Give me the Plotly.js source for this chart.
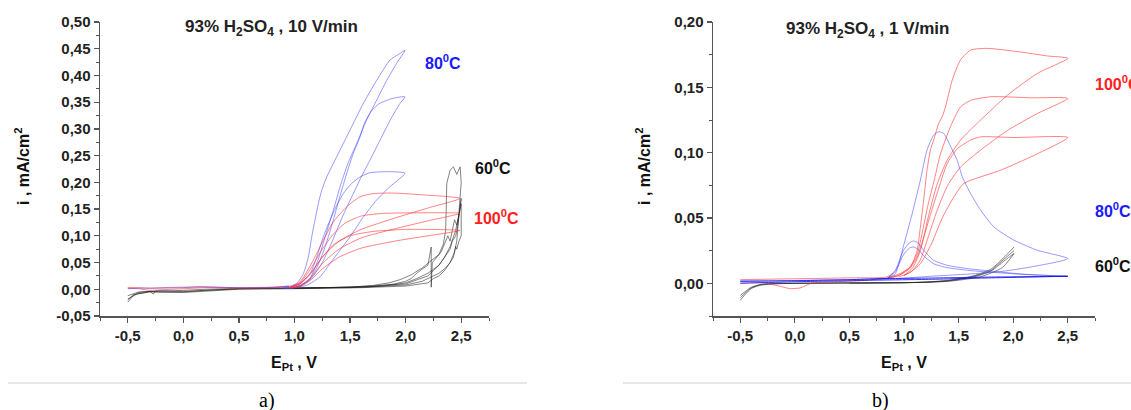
<!DOCTYPE html>
<html>
<head>
<meta charset="utf-8">
<script src="https://cdn.plot.ly/plotly-3.0.1.min.js"></script>
<style>html,body{margin:0;padding:0;background:#fff;}#chart{width:1131px;height:410px;}</style>
</head>
<body>
<div id="chart"></div>
<script>
// ---------- tick labels ----------
const xTickVals = [-0.5, 0, 0.5, 1.0, 1.5, 2.0, 2.5];
const xTickText = ["-0,5", "0,0", "0,5", "1,0", "1,5", "2,0", "2,5"];
const yTickValsA = [-0.05, 0, 0.05, 0.10, 0.15, 0.20, 0.25, 0.30, 0.35, 0.40, 0.45, 0.50];
const yTickTextA = ["-0,05", "0,00", "0,05", "0,10", "0,15", "0,20", "0,25", "0,30", "0,35", "0,40", "0,45", "0,50"];
const yTickValsB = [0, 0.05, 0.10, 0.15, 0.20];
const yTickTextB = ["0,00", "0,05", "0,10", "0,15", "0,20"];

// ================= a) 10 V/min =================
// 80 C (blue) loops
const aB1_E = [0.90,0.96,1.05,1.14,1.21,1.28,1.35,1.41,1.48,1.56,1.65,1.74,1.83,1.92,1.994,1.94,1.86,1.74,1.62,1.50,1.38,1.29,1.245,1.214,1.184,1.155,1.124,1.079,1.02,0.90];
const aB1_I = [0.002,0.003,0.007,0.021,0.054,0.101,0.148,0.192,0.235,0.273,0.317,0.354,0.391,0.423,0.447,0.440,0.429,0.391,0.348,0.298,0.248,0.210,0.185,0.160,0.129,0.098,0.060,0.029,0.011,0.002];
const aB2_E = [0.95,1.05,1.15,1.25,1.34,1.43,1.52,1.60,1.68,1.77,1.86,1.95,1.994,1.88,1.76,1.69,1.63,1.59,1.53,1.47,1.41,1.35,1.28,1.20,1.12,1.02,0.92];
const aB2_I = [0.002,0.006,0.020,0.050,0.090,0.135,0.175,0.210,0.242,0.279,0.316,0.348,0.360,0.357,0.347,0.333,0.311,0.285,0.255,0.217,0.175,0.130,0.082,0.040,0.014,0.004,0.002];
const aB3_E = [1.0,1.11,1.229,1.319,1.409,1.499,1.619,1.739,1.859,1.994,1.859,1.679,1.589,1.514,1.439,1.38,1.319,1.259,1.2,1.139,1.049,0.95];
const aB3_I = [0.003,0.0075,0.023,0.048,0.073,0.098,0.135,0.167,0.192,0.217,0.220,0.218,0.210,0.198,0.179,0.157,0.129,0.098,0.060,0.029,0.011,0.003];
const aBbase_E = [-0.5,-0.4,-0.2,0,0.15,0.3,0.5,0.7,0.85,0.95];
const aBbase_I = [0.001,0.002,0.002,0.003,0.005,0.004,0.003,0.003,0.004,0.006];
// 100 C (red) loops
const aR1_E = [0.95,1.049,1.169,1.259,1.349,1.469,1.589,1.709,1.888,2.129,2.488,2.2,1.9,1.6,1.4,1.25,1.15,1.05,0.95];
const aR1_I = [0.003,0.0137,0.0543,0.0918,0.126,0.154,0.173,0.179,0.180,0.177,0.170,0.152,0.133,0.112,0.090,0.060,0.030,0.010,0.003];
const aR2_E = [0.95,1.05,1.15,1.25,1.35,1.45,1.6,1.8,2.1,2.488,2.2,1.9,1.6,1.4,1.25,1.15,1.05,0.95];
const aR2_I = [0.003,0.012,0.040,0.075,0.103,0.123,0.137,0.142,0.143,0.142,0.128,0.113,0.096,0.075,0.048,0.022,0.007,0.003];
const aR3_E = [0.95,1.05,1.15,1.25,1.35,1.5,1.7,2.0,2.488,2.2,1.9,1.6,1.4,1.25,1.15,1.05,0.95];
const aR3_I = [0.003,0.010,0.032,0.060,0.083,0.100,0.108,0.112,0.110,0.100,0.090,0.077,0.060,0.038,0.018,0.005,0.003];
const aRbase_E = [-0.5,-0.4,-0.3,-0.2,0,0.2,0.5,0.8,0.95];
const aRbase1_I = [0.002,0.001,-0.002,-0.001,0.001,0.003,0.002,0.003,0.005];
const aRbase2_I = [0.003,0.003,0.002,0.003,0.004,0.004,0.003,0.004,0.006];
// 60 C (black)
const aK1_E = [-0.5,-0.45,-0.4,-0.3,-0.2,0,0.2,0.5,0.8,1.0,1.3,1.5,1.7,1.85,1.95,2.05,2.15,2.22,2.30,2.34,2.36,2.365,2.37,2.40,2.43,2.46,2.49,2.50,2.49,2.48,2.46,2.44,2.40,2.35,2.30,2.25,2.2,2.0,1.6,1.0,0.5,0,-0.3,-0.45,-0.5];
const aK1_I = [-0.024,-0.012,-0.006,-0.004,-0.005,-0.005,-0.002,0.001,0.002,0.002,0.003,0.004,0.007,0.012,0.018,0.027,0.040,0.052,0.065,0.085,0.110,0.150,0.198,0.223,0.229,0.215,0.229,0.200,0.170,0.130,0.090,0.070,0.050,0.035,0.025,0.020,0.012,0.006,0.003,0.001,0.000,-0.006,-0.005,-0.010,-0.020];
const aK2_E = [-0.5,-0.42,-0.3,-0.27,-0.25,-0.1,0.2,0.6,1.0,1.4,1.7,1.9,2.0,2.05,2.1,2.15,2.2,2.23,2.23,2.24,2.28,2.32,2.35,2.38,2.40,2.42,2.44,2.46,2.48,2.5,2.5,2.48,2.46,2.45,2.43,2.40,2.36,2.3,2.25,2.15,2.0,1.6,1.0];
const aK2_I = [-0.018,-0.009,-0.004,-0.009,-0.003,-0.003,0.0,0.002,0.002,0.003,0.005,0.010,0.015,0.020,0.030,0.038,0.045,0.079,0.004,0.050,0.060,0.070,0.085,0.100,0.090,0.110,0.130,0.120,0.140,0.160,0.100,0.090,0.075,0.080,0.060,0.050,0.040,0.030,0.025,0.015,0.008,0.004,0.002];
const aK3_E = [-0.5,-0.4,-0.2,0,0.5,1.0,1.5,1.8,2.0,2.1,2.2,2.3,2.35,2.4,2.42,2.45,2.47,2.5,2.48,2.45,2.4,2.35,2.3,2.2,2.0,1.5,1.0];
const aK3_I = [-0.012,-0.005,-0.003,-0.004,0.001,0.002,0.003,0.006,0.012,0.020,0.030,0.045,0.060,0.075,0.090,0.100,0.120,0.170,0.140,0.110,0.080,0.060,0.045,0.025,0.010,0.004,0.002];

// ================= b) 1 V/min =================
// 100 C (red)
const bR1_E = [0.85,0.874,0.963,1.058,1.12,1.15,1.18,1.211,1.242,1.272,1.318,1.35,1.38,1.442,1.518,1.61,1.764,2.07,2.315,2.5,2.223,1.948,1.702,1.518,1.396,1.30,1.22,1.15,1.08,1.0];
const bR1_I = [0.004,0.0048,0.0074,0.0125,0.025,0.043,0.0636,0.0866,0.102,0.1096,0.1224,0.1275,0.135,0.1556,0.171,0.1785,0.1798,0.177,0.174,0.1722,0.1607,0.144,0.125,0.1096,0.0943,0.075,0.050,0.025,0.012,0.006];
const bR2_E = [0.85,0.95,1.05,1.12,1.17,1.22,1.28,1.334,1.426,1.518,1.61,1.794,2.162,2.5,2.223,1.948,1.702,1.518,1.40,1.30,1.22,1.15,1.08,1.0];
const bR2_I = [0.004,0.006,0.012,0.022,0.040,0.060,0.080,0.099,0.120,0.135,0.140,0.1428,0.142,0.1415,0.130,0.117,0.102,0.089,0.075,0.055,0.035,0.018,0.010,0.006];
const bR3_E = [0.85,0.95,1.05,1.12,1.18,1.24,1.30,1.396,1.488,1.61,1.702,2.008,2.5,2.193,1.886,1.548,1.457,1.35,1.25,1.15,1.05,0.95];
const bR3_I = [0.004,0.006,0.011,0.020,0.035,0.052,0.068,0.0917,0.103,0.1096,0.1121,0.1116,0.1116,0.098,0.0866,0.0764,0.0661,0.050,0.030,0.015,0.008,0.005];
const bRbase1_E = [-0.5,-0.3,-0.2,-0.1,-0.05,0.05,0.15,0.3,0.6,0.85];
const bRbase1_I = [0.001,0.0005,-0.001,-0.003,-0.004,-0.0035,0.0,0.001,0.002,0.004];
const bRbase2_E = [-0.5,0,0.5,0.84,0.9];
const bRbase2_I = [0.0028,0.0035,0.0042,0.0048,0.0077];
// 80 C (blue)
const bB1_E = [-0.5,-0.2,0.2,0.6,0.85,0.92,1.0,1.08,1.15,1.211,1.272,1.318,1.364,1.426,1.488,1.534,1.61,1.702,1.824,2.008,2.223,2.5,2.162,1.856,1.548,1.242,0.936,0.7];
const bB1_I = [0.002,0.002,0.0025,0.003,0.004,0.0074,0.030,0.055,0.079,0.102,0.1134,0.116,0.1147,0.105,0.094,0.0815,0.0687,0.056,0.0431,0.033,0.0253,0.0189,0.0125,0.0087,0.0069,0.0054,0.0036,0.003];
const bBs_E = [0.85,0.92,0.996,1.05,1.088,1.13,1.18,1.272,1.396,1.58,1.794,2.1,2.5];
const bBs1_I = [0.004,0.010,0.0253,0.031,0.0324,0.031,0.0253,0.0176,0.0138,0.0113,0.0094,0.0070,0.0054];
const bBs2_I = [0.004,0.009,0.022,0.027,0.0278,0.026,0.021,0.015,0.012,0.010,0.0085,0.0068,0.0054];
const bBflat_E = [-0.5,0,0.5,0.78,1.2,1.8,2.5];
const bBflat1_I = [0.0015,0.002,0.0028,0.0036,0.004,0.0048,0.0054];
const bBflat2_I = [0.0,0.0012,0.002,0.0025,0.003,0.0042,0.0054];
// 60 C (black)
const bK_E = [-0.5,-0.45,-0.4,-0.32,-0.2,0,0.5,1.0,1.2,1.4,1.6,1.7,1.8,1.856,1.93,2.008];
const bK1_I = [-0.013,-0.008,-0.004,-0.0015,-0.0005,0,0.0003,0.0005,0.001,0.0023,0.005,0.0074,0.011,0.015,0.021,0.0278];
const bK2_I = [-0.0092,-0.006,-0.003,-0.001,0,0,0.0003,0.0005,0.0008,0.0018,0.0042,0.0063,0.0095,0.013,0.018,0.0228];
const bK3_I = [-0.011,-0.007,-0.0035,-0.0012,-0.0003,0,0.0003,0.0005,0.0009,0.002,0.0046,0.0068,0.010,0.014,0.0195,0.025];
const bKret_E = [2.008,1.9,1.7,1.4,1.0,0.5];
const bKret_I = [0.0228,0.012,0.005,0.0015,0.0005,0.0];

// ---------- styles ----------
const BLUE = 'rgba(70,70,255,0.55)';
const BLUE_D = 'rgba(20,20,230,0.85)';
const RED = 'rgba(255,50,50,0.6)';
const BLACK = 'rgba(30,30,30,0.55)';

function tr(x, y, color, ax, shape) {
  return {x: x, y: y, mode: 'lines', xaxis: ax === 2 ? 'x2' : 'x', yaxis: ax === 2 ? 'y2' : 'y',
    line: {color: color, width: 1, shape: shape || 'spline', smoothing: 0.6},
    hoverinfo: 'skip', showlegend: false};
}

const traces = [
  tr(aK1_E, aK1_I, BLACK, 1, 'linear'),
  tr(aK2_E, aK2_I, BLACK, 1, 'linear'),
  tr(aK3_E, aK3_I, BLACK, 1, 'linear'),
  tr(aRbase_E, aRbase1_I, RED, 1),
  tr(aRbase_E, aRbase2_I, RED, 1),
  tr(aBbase_E, aBbase_I, BLUE, 1),
  tr(aB1_E, aB1_I, BLUE, 1),
  tr(aB2_E, aB2_I, BLUE, 1),
  tr(aB3_E, aB3_I, BLUE, 1),
  tr(aR1_E, aR1_I, RED, 1),
  tr(aR2_E, aR2_I, RED, 1),
  tr(aR3_E, aR3_I, RED, 1),

  tr(bK_E, bK1_I, BLACK, 2),
  tr(bK_E, bK2_I, BLACK, 2),
  tr(bK_E, bK3_I, BLACK, 2),
  tr(bKret_E, bKret_I, BLACK, 2),
  tr(bRbase1_E, bRbase1_I, RED, 2),
  tr(bRbase2_E, bRbase2_I, RED, 2),
  tr(bR1_E, bR1_I, RED, 2),
  tr(bR2_E, bR2_I, RED, 2),
  tr(bR3_E, bR3_I, RED, 2),
  tr(bB1_E, bB1_I, BLUE, 2),
  tr(bBs_E, bBs1_I, BLUE, 2),
  tr(bBs_E, bBs2_I, BLUE, 2),
  tr(bBflat_E, bBflat1_I, BLUE_D, 2),
  tr(bBflat_E, bBflat2_I, BLUE_D, 2)
];

const W = 1131, H = 410;
const px = v => v / W;
const py = v => 1 - v / H;
const FONT = 'Liberation Sans, Arial, sans-serif';
const tickFont = {family: FONT, size: 15, color: '#222', weight: 'bold'};

function xAxis(domain, anchor) {
  return {domain: domain, anchor: anchor, range: [-0.75, 2.75], showline: true, linecolor: '#555', linewidth: 1.5,
    ticks: 'outside', ticklen: 5, tickwidth: 1.2, tickcolor: '#555', tickmode: 'array', tickvals: xTickVals, ticktext: xTickText,
    minor: {ticks: 'outside', ticklen: 3, tickwidth: 1, tickcolor: '#555', tickmode: 'linear', tick0: -0.75, dtick: 0.5},
    showgrid: false, zeroline: false, tickfont: tickFont, fixedrange: true};
}
function yAxis(domain, anchor, range, vals, text) {
  return {domain: domain, anchor: anchor, range: range, showline: true, linecolor: '#555', linewidth: 1.5,
    ticks: 'outside', ticklen: 5, tickwidth: 1.2, tickcolor: '#555', tickmode: 'array', tickvals: vals, ticktext: text,
    minor: {ticks: 'outside', ticklen: 3, tickwidth: 1, tickcolor: '#555', tickmode: 'linear', tick0: -0.025, dtick: 0.05},
    showgrid: false, zeroline: false, tickfont: tickFont, fixedrange: true};
}

const ydom = [py(316), py(22)];
const ann = (x, y, text, opts) => Object.assign({xref: 'paper', yref: 'paper', x: px(x), y: py(y), text: text,
  showarrow: false, xanchor: 'center', yanchor: 'middle', font: {family: FONT, size: 16, color: '#111', weight: 'bold'}}, opts || {});

const layout = {
  width: W, height: H,
  margin: {l: 0, r: 0, t: 0, b: 0},
  paper_bgcolor: '#fff', plot_bgcolor: '#fff',
  showlegend: false,
  xaxis: xAxis([px(100), px(489)], 'y'),
  yaxis: yAxis(ydom, 'x', [-0.05, 0.50], yTickValsA, yTickTextA),
  xaxis2: xAxis([px(713), px(1095)], 'y2'),
  yaxis2: yAxis(ydom, 'x2', [-0.025, 0.20], yTickValsB, yTickTextB),
  annotations: [
    ann(271, 28, '93% H<sub>2</sub>SO<sub>4</sub> , 10 V/min', {font: {family: FONT, size: 17, color: '#222', weight: 'bold'}}),
    ann(867, 30, '93% H<sub>2</sub>SO<sub>4</sub> , 1 V/min', {font: {family: FONT, size: 17, color: '#222', weight: 'bold'}}),
    ann(22, 167, 'i , mA/cm<sup>2</sup>', {textangle: -90}),
    ann(643, 167, 'i , mA/cm<sup>2</sup>', {textangle: -90}),
    ann(294, 363, 'E<sub>Pt</sub> , V'),
    ann(904, 363, 'E<sub>Pt</sub> , V'),
    ann(423, 62, '80<sup>0</sup>C', {xanchor: 'left', font: {family: FONT, size: 16, color: '#1a1aff', weight: 'bold'}}),
    ann(473, 167, '60<sup>0</sup>C', {xanchor: 'left', font: {family: FONT, size: 16, color: '#111', weight: 'bold'}}),
    ann(472, 217, '100<sup>0</sup>C', {xanchor: 'left', font: {family: FONT, size: 16, color: '#ff2020', weight: 'bold'}}),
    ann(1093, 83, '100<sup>0</sup>C', {xanchor: 'left', font: {family: FONT, size: 16, color: '#ff2020', weight: 'bold'}}),
    ann(1093, 210, '80<sup>0</sup>C', {xanchor: 'left', font: {family: FONT, size: 16, color: '#1a1aff', weight: 'bold'}}),
    ann(1093, 265, '60<sup>0</sup>C', {xanchor: 'left', font: {family: FONT, size: 16, color: '#111', weight: 'bold'}}),
    ann(267, 400, 'a)', {font: {family: 'Liberation Serif, Times New Roman, serif', size: 20, color: '#000'}}),
    ann(880, 400, 'b)', {font: {family: 'Liberation Serif, Times New Roman, serif', size: 20, color: '#000'}})
  ],
  shapes: [
    {type: 'line', xref: 'paper', yref: 'paper', x0: px(8), x1: px(527), y0: py(383), y1: py(383), line: {color: '#d0d0d0', width: 1}},
    {type: 'line', xref: 'paper', yref: 'paper', x0: px(623), x1: px(1131), y0: py(383), y1: py(383), line: {color: '#d0d0d0', width: 1}}
  ]
};

Plotly.newPlot('chart', traces, layout, {staticPlot: true, displayModeBar: false});
</script>
</body>
</html>
